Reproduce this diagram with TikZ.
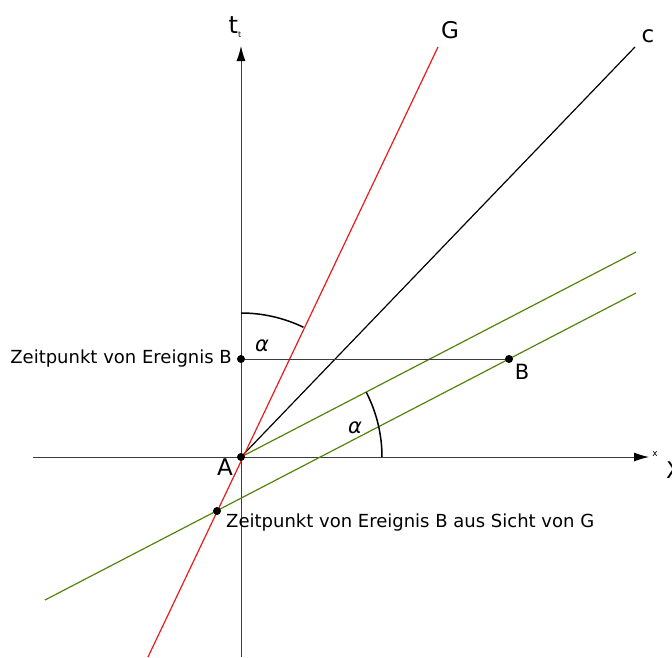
\documentclass[tikz,border=0pt]{standalone}
\usepackage{fontspec}
\setmainfont{DejaVu Sans}
\usetikzlibrary{arrows.meta}
\definecolor{gred}{RGB}{232,28,28}
\definecolor{ggreen}{RGB}{82,132,12}
\definecolor{axisgray}{RGB}{60,60,60}
\begin{document}
\begin{tikzpicture}[x=1pt,y=1pt,
  axis/.style={draw=axisgray, line width=1pt, -{Latex[length=15pt,width=9pt,fill=black,color=black]}},
  redline/.style={draw=gred, line width=1.2pt},
  greenline/.style={draw=ggreen, line width=1.2pt},
  cline/.style={draw=black, line width=1.2pt},
  helpline/.style={draw=axisgray, line width=0.9pt},
  anglearc/.style={draw=black, line width=1.5pt},
  dot/.style={circle, fill=black, inner sep=0pt, minimum size=8pt},
  lbl/.style={font=\fontsize{18}{21}\selectfont, inner sep=0pt},
  biglbl/.style={font=\fontsize{23}{26}\selectfont, inner sep=0pt},
  alphalbl/.style={font=\fontsize{21}{24}\selectfont\itshape, inner sep=0pt}]
\useasboundingbox (-241,-200) rectangle (431,457);
% named points
\coordinate (A) at (0,0);
\coordinate (ybot) at (0,-200);
\coordinate (ytop) at (0,411);
\coordinate (xleft) at (-208,0);
\coordinate (xright) at (408,0);
\coordinate (Gbot) at (-93,-200);
\coordinate (Gtop) at (197,410);
\coordinate (ctop) at (394,410);
\coordinate (g1end) at (395,205);
\coordinate (g2start) at (-196,-143);
\coordinate (g2end) at (395,164);
% axes
\draw[axis] (ybot) -- (ytop);
\draw[axis] (xleft) -- (xright);
% lines
\draw[greenline] (A) -- (g1end);
\draw[greenline] (g2start) -- (g2end);
\draw[cline] (A) -- (ctop);
\draw[redline] (Gbot) -- (Gtop);
% dots
\node[dot] (B) at (268,98) {};
\node[dot] (tB) at (0,98) {};
\node[dot] (tBG) at (-24,-54) {};
\node[dot] (Adot) at (A) {};
\draw[helpline] (tB) -- (B);
% angle arcs
\draw[anglearc] ([shift={(90:144)}]A) arc[start angle=90, end angle=64.3, radius=144];
\draw[anglearc] ([shift={(0:141)}]A) arc[start angle=0, end angle=27.4, radius=141];
\node[alphalbl] (al1) at (21,111) {α};
\node[alphalbl] (al2) at (114,29) {α};
% labels
\node[font=\fontsize{24}{26}\selectfont, inner sep=0pt] (tt) at (-6,430) {t\raisebox{-0.35ex}{\fontsize{8}{9}\selectfont t}};
\node[biglbl] (Glbl) at (209,427) {G};
\node[biglbl] (clbl) at (407,421) {c};
\node[biglbl] (Albl) at (-16,-10) {A};
\node[font=\fontsize{21}{24}\selectfont, inner sep=0pt] (Blbl) at (281,85) {B};
\node[font=\fontsize{9}{10}\selectfont\rmfamily, inner sep=0pt] (xsmall) at (414,3) {x};
\node[biglbl] (xbig) at (433,-13) {X};
\node[lbl, anchor=east] (ltB) at (-9,98) {Zeitpunkt von Ereignis B};
\node[lbl, anchor=west] (ltBG) at (-15,-66) {Zeitpunkt von Ereignis B aus Sicht von G};
\end{tikzpicture}
\end{document}
